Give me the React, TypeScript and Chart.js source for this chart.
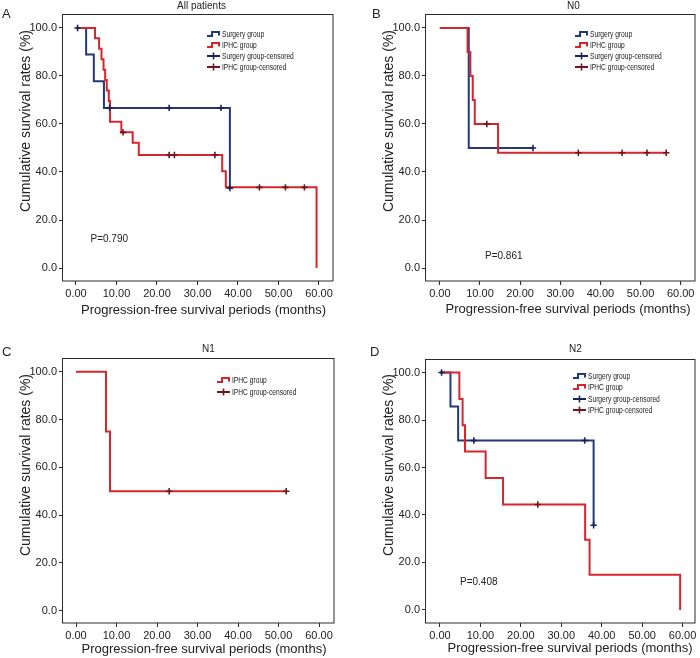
import React, { useEffect, useRef } from 'react';
import { Chart, registerables } from 'chart.js';

Chart.register(...registerables);

const FONT = "'Liberation Sans', Arial, Helvetica, sans-serif";
const BLUE = '#22397a';
const RED = '#d6262c';
const BLUE_MARK = '#17245a';
const RED_MARK = '#6e1620';
const TEXT = '#222222';

const X_TICKS = [0, 10, 20, 30, 40, 50, 60];
const Y_TICKS = [0, 20, 40, 60, 80, 100];
const X_TITLE = 'Progression-free survival periods (months)';
const Y_TITLE = 'Cumulative survival rates (%)';

// Panel A: All patients
const A_SURG_T = [0, 2.5, 4.4, 6.9, 38.0];
const A_SURG_S = [100, 88.9, 77.8, 66.7, 33.3];
const A_SURG_CT = [0.4, 8.3, 23.0, 35.8, 38.0];
const A_SURG_CS = [100, 66.7, 66.7, 66.7, 33.3];
const A_IPHC_T = [0, 4.7, 5.7, 6.3, 6.8, 7.2, 7.6, 8.1, 8.4, 11.2, 14.0, 15.5, 36.1, 37.0, 59.4];
const A_IPHC_S = [100, 95.7, 91.3, 87.0, 82.6, 78.3, 73.9, 69.6, 60.9, 56.5, 52.2, 47.1, 40.3, 33.6, 0];
const A_IPHC_CT = [11.6, 23.0, 24.3, 34.3, 45.3, 51.7, 56.4];
const A_IPHC_CS = [56.5, 47.1, 47.1, 47.1, 33.6, 33.6, 33.6];

// Panel B: N0
const B_SURG_T = [0, 7.2, 23.2];
const B_SURG_S = [100, 50, 50];
const B_SURG_CT = [23.2];
const B_SURG_CS = [50];
const B_IPHC_T = [0, 6.9, 7.6, 8.2, 8.7, 14.5, 56.4];
const B_IPHC_S = [100, 90, 80, 70, 60, 48, 48];
const B_IPHC_CT = [11.7, 34.5, 45.4, 51.6, 56.4];
const B_IPHC_CS = [60, 48, 48, 48, 48];

// Panel C: N1
const C_IPHC_T = [0, 7.4, 8.4, 51.9];
const C_IPHC_S = [100, 75, 50, 50];
const C_IPHC_CT = [23.0, 51.9];
const C_IPHC_CS = [50, 50];

// Panel D: N2
const D_SURG_T = [0, 2.6, 4.5, 38.0];
const D_SURG_S = [100, 85.7, 71.4, 35.7];
const D_SURG_CT = [0.4, 8.4, 35.8, 38.0];
const D_SURG_CS = [100, 71.4, 71.4, 35.7];
const D_IPHC_T = [0, 4.8, 5.6, 6.2, 11.3, 15.6, 35.9, 37.0, 59.4];
const D_IPHC_S = [100, 88.9, 77.8, 66.7, 55.6, 44.4, 29.6, 14.8, 0];
const D_IPHC_CT = [24.2];
const D_IPHC_CS = [44.4];

const LEG_FULL = [
  { label: 'Surgery group', color: BLUE, kind: 'line' },
  { label: 'IPHC group', color: RED, kind: 'line' },
  { label: 'Surgery group-censored', color: BLUE_MARK, kind: 'censor' },
  { label: 'IPHC group-censored', color: RED_MARK, kind: 'censor' },
];
const LEG_IPHC = [
  { label: 'IPHC group', color: RED, kind: 'line' },
  { label: 'IPHC group-censored', color: RED_MARK, kind: 'censor' },
];

type Series = { t: number[]; s: number[]; color: string; censor: boolean };

const PANELS: any[] = [
  {
    key: 'A', left: 0, top: 0, width: 350, height: 329,
    padTop: 14, padRight: 17, yAxisW: 63, xAxisH: 48,
    xMin: -3.21, xMax: 63.46, yMin: -5.4, yMax: 105.8,
    letterX: 2, letterY: 17.5, title: 'All patients', titleX: 201.5, titleY: 6.5,
    xTitleX: 203.5, xTitleY: 310, yTitleX: 26, yTitleY: 121,
    pText: 'P=0.790', pX: 90.5, pY: 239,
    legendX: 207, legendY: 34, legendGap: 11, legend: LEG_FULL,
    series: [
      { t: A_SURG_CT, s: A_SURG_CS, color: BLUE_MARK, censor: true },
      { t: A_IPHC_CT, s: A_IPHC_CS, color: RED_MARK, censor: true },
      { t: A_IPHC_T, s: A_IPHC_S, color: RED, censor: false },
      { t: A_SURG_T, s: A_SURG_S, color: BLUE, censor: false },
    ],
  },
  {
    key: 'B', left: 350, top: 0, width: 350, height: 329,
    padTop: 14, padRight: 2, yAxisW: 76, xAxisH: 48,
    xMin: -3.45, xMax: 63.62, yMin: -5.4, yMax: 105.8,
    letterX: 372, letterY: 17.5, title: 'N0', titleX: 573.5, titleY: 6.5,
    xTitleX: 568, xTitleY: 309, yTitleX: 389, yTitleY: 121,
    pText: 'P=0.861', pX: 485, pY: 256,
    legendX: 575, legendY: 33.5, legendGap: 11.3, legend: LEG_FULL,
    series: [
      { t: B_SURG_CT, s: B_SURG_CS, color: BLUE_MARK, censor: true },
      { t: B_IPHC_CT, s: B_IPHC_CS, color: RED_MARK, censor: true },
      { t: B_IPHC_T, s: B_IPHC_S, color: RED, censor: false },
      { t: B_SURG_T, s: B_SURG_S, color: BLUE, censor: false },
    ],
  },
  {
    key: 'C', left: 0, top: 329, width: 350, height: 329,
    padTop: 29, padRight: 16, yAxisW: 63, xAxisH: 35,
    xMin: -3.21, xMax: 63.7, yMin: -5.2, yMax: 105.8,
    letterX: 2, letterY: 356, title: 'N1', titleX: 208.5, titleY: 349.5,
    xTitleX: 204, xTitleY: 649, yTitleX: 26, yTitleY: 465,
    pText: '', pX: 0, pY: 0,
    legendX: 217, legendY: 380, legendGap: 11.7, legend: LEG_IPHC,
    series: [
      { t: C_IPHC_CT, s: C_IPHC_CS, color: RED_MARK, censor: true },
      { t: C_IPHC_T, s: C_IPHC_S, color: RED, censor: false },
    ],
  },
  {
    key: 'D', left: 350, top: 329, width: 350, height: 329,
    padTop: 30, padRight: 4, yAxisW: 76, xAxisH: 35,
    xMin: -3.45, xMax: 63.12, yMin: -5.5, yMax: 105.7,
    letterX: 370, letterY: 356, title: 'N2', titleX: 575.5, titleY: 349.5,
    xTitleX: 570, xTitleY: 648.5, yTitleX: 389, yTitleY: 465,
    pText: 'P=0.408', pX: 460, pY: 582.5,
    legendX: 573, legendY: 376, legendGap: 11.3, legend: LEG_FULL,
    series: [
      { t: D_SURG_CT, s: D_SURG_CS, color: BLUE_MARK, censor: true },
      { t: D_IPHC_CT, s: D_IPHC_CS, color: RED_MARK, censor: true },
      { t: D_IPHC_T, s: D_IPHC_S, color: RED, censor: false },
      { t: D_SURG_T, s: D_SURG_S, color: BLUE, censor: false },
    ],
  },
];

function decor(p: any) {
  return {
    id: 'decor' + p.key,
    afterDraw(chart: any) {
      const { ctx, chartArea: a } = chart;
      const ox = p.left;
      const oy = p.top;
      ctx.save();
      // frame
      ctx.strokeStyle = '#2a2a2a';
      ctx.lineWidth = 1;
      ctx.strokeRect(Math.round(a.left) - 0.5, Math.round(a.top) + 0.5, Math.round(a.right - a.left) + 0.5, Math.round(a.bottom - a.top) - 0.5);
      ctx.fillStyle = TEXT;
      // panel letter
      ctx.font = `13px ${FONT}`;
      ctx.textAlign = 'left';
      ctx.textBaseline = 'alphabetic';
      ctx.fillText(p.key, p.letterX - ox, p.letterY - oy);
      // title
      ctx.font = `10px ${FONT}`;
      ctx.textAlign = 'center';
      ctx.textBaseline = 'middle';
      ctx.fillText(p.title, p.titleX - ox, p.titleY - oy);
      // x title
      ctx.font = `13px ${FONT}`;
      ctx.fillText(X_TITLE, p.xTitleX - ox, p.xTitleY - oy);
      // y title
      ctx.save();
      ctx.translate(p.yTitleX - ox, p.yTitleY - oy);
      ctx.rotate(-Math.PI / 2);
      ctx.font = `14px ${FONT}`;
      ctx.fillText(Y_TITLE, 0, 0);
      ctx.restore();
      // p value
      if (p.pText) {
        ctx.font = `10px ${FONT}`;
        ctx.textAlign = 'left';
        ctx.fillText(p.pText, p.pX - ox, p.pY - oy);
      }
      // legend
      p.legend.forEach((it: any, i: number) => {
        const x = p.legendX - ox;
        const y = Math.round(p.legendY + i * p.legendGap - oy);
        ctx.strokeStyle = it.color;
        ctx.lineWidth = 2;
        ctx.beginPath();
        if (it.kind === 'line') {
          ctx.moveTo(x, y + 2);
          ctx.lineTo(x + 5, y + 2);
          ctx.lineTo(x + 5, y - 2);
          ctx.lineTo(x + 12, y - 2);
          ctx.lineTo(x + 12, y + 1.5);
          ctx.stroke();
        } else {
          ctx.moveTo(x, y);
          ctx.lineTo(x + 13, y);
          ctx.stroke();
          ctx.lineWidth = 1.6;
          ctx.beginPath();
          ctx.moveTo(x + 6.5, y - 3.5);
          ctx.lineTo(x + 6.5, y + 3.5);
          ctx.stroke();
        }
        ctx.save();
        ctx.translate(x + 15, y + 0.5);
        ctx.scale(0.74, 1);
        ctx.fillStyle = TEXT;
        ctx.font = `9px ${FONT}`;
        ctx.textAlign = 'left';
        ctx.textBaseline = 'middle';
        ctx.fillText(it.label, 0, 0);
        ctx.restore();
      });
      ctx.restore();
    },
  };
}

function buildConfig(p: any): any {
  const datasets = p.series.map((s: Series) => {
    const data = s.t.map((t, i) => ({ x: t, y: s.s[i] }));
    if (s.censor) {
      return {
        data,
        showLine: false,
        pointStyle: 'cross',
        pointRadius: 3.2,
        pointHoverRadius: 3.2,
        pointBorderWidth: 1.6,
        pointBorderColor: s.color,
        pointBackgroundColor: s.color,
        borderColor: s.color,
      };
    }
    return {
      data,
      stepped: true,
      borderColor: s.color,
      borderWidth: 2,
      pointRadius: 0,
      pointHoverRadius: 0,
      fill: false,
      tension: 0,
      borderCapStyle: 'butt',
      borderJoinStyle: 'miter',
    };
  });
  return {
    type: 'line',
    data: { datasets },
    options: {
      animation: false,
      responsive: false,
      devicePixelRatio: 1,
      events: [],
      layout: { padding: { top: p.padTop, right: p.padRight, left: 0, bottom: 0 } },
      plugins: { legend: { display: false }, tooltip: { enabled: false }, title: { display: false } },
      scales: {
        x: {
          type: 'linear',
          min: p.xMin,
          max: p.xMax,
          afterBuildTicks: (axis: any) => {
            axis.ticks = X_TICKS.map((v) => ({ value: v }));
          },
          afterFit: (axis: any) => {
            axis.height = p.xAxisH;
          },
          grid: { display: true, drawOnChartArea: false, drawTicks: true, tickLength: 4, color: '#2a2a2a' },
          border: { display: false },
          ticks: {
            padding: 2,
            maxRotation: 0,
            autoSkip: false,
            color: TEXT,
            font: { family: FONT, size: 11 },
            callback: (v: any) => Number(v).toFixed(2),
          },
          title: { display: false },
        },
        y: {
          type: 'linear',
          min: p.yMin,
          max: p.yMax,
          afterBuildTicks: (axis: any) => {
            axis.ticks = Y_TICKS.map((v) => ({ value: v }));
          },
          afterFit: (axis: any) => {
            axis.width = p.yAxisW;
          },
          grid: { display: true, drawOnChartArea: false, drawTicks: true, tickLength: 4, color: '#2a2a2a' },
          border: { display: false },
          ticks: {
            padding: 2,
            autoSkip: false,
            color: TEXT,
            font: { family: FONT, size: 11 },
            callback: (v: any) => Number(v).toFixed(1),
          },
          title: { display: false },
        },
      },
    },
    plugins: [decor(p)],
  };
}

function Panel({ p }: { p: any }) {
  const ref = useRef<HTMLCanvasElement | null>(null);
  useEffect(() => {
    if (!ref.current) return;
    const chart = new Chart(ref.current, buildConfig(p));
    return () => chart.destroy();
  }, [p]);
  return (
    <canvas
      ref={ref}
      width={p.width}
      height={p.height}
      style={{ position: 'absolute', left: p.left, top: p.top, width: p.width, height: p.height }}
    />
  );
}

export default function App() {
  return (
    <div style={{ position: 'absolute', left: 0, top: 0, width: 700, height: 658, background: '#ffffff', overflow: 'hidden' }}>
      {PANELS.map((p) => (
        <Panel key={p.key} p={p} />
      ))}
    </div>
  );
}
